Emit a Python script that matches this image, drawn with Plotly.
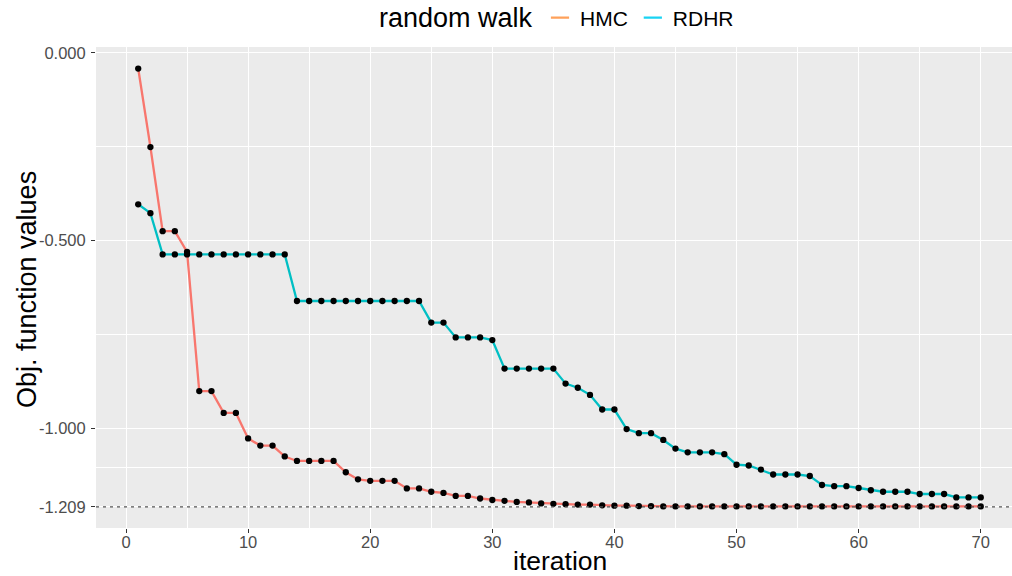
import plotly.graph_objects as go

iterations = list(range(1, 71))

hmc = [-0.042, -0.251, -0.475, -0.475, -0.530, -0.901, -0.901, -0.959, -0.959, -1.027,
       -1.046, -1.046, -1.075, -1.087, -1.087, -1.087, -1.087, -1.117, -1.136, -1.140,
       -1.140, -1.140, -1.160, -1.160, -1.169, -1.172, -1.180, -1.180, -1.187, -1.191,
       -1.193, -1.196, -1.1975, -1.200, -1.201, -1.202, -1.203, -1.203, -1.205, -1.206,
       -1.206, -1.207, -1.207, -1.208, -1.208, -1.208, -1.208, -1.208, -1.208, -1.208,
       -1.208, -1.208, -1.208, -1.208, -1.208, -1.208, -1.208, -1.208, -1.208, -1.208,
       -1.208, -1.208, -1.208, -1.208, -1.208, -1.208, -1.208, -1.208, -1.208, -1.208]

rdhr = [-0.4035, -0.427, -0.537, -0.537, -0.537, -0.537, -0.537, -0.537, -0.537, -0.537,
        -0.537, -0.537, -0.537, -0.661, -0.661, -0.661, -0.661, -0.661, -0.661, -0.661,
        -0.661, -0.661, -0.661, -0.661, -0.7185, -0.7185, -0.758, -0.758, -0.758, -0.765,
        -0.841, -0.841, -0.841, -0.841, -0.841, -0.881, -0.892, -0.911, -0.950, -0.950,
        -1.002, -1.013, -1.013, -1.031, -1.054, -1.064, -1.064, -1.064, -1.069, -1.097,
        -1.099, -1.110, -1.123, -1.123, -1.123, -1.127, -1.151, -1.154, -1.154, -1.159,
        -1.165, -1.169, -1.169, -1.169, -1.175, -1.175, -1.175, -1.184, -1.184, -1.184]

optimum = -1.209
series_names = ["HMC", "RDHR"]
series_colors = ["#F8766D", "#00BFC4"]
legend_title = "random walk"
x_title = "iteration"
y_title = "Obj. function values"
y_tickvals = [0.0, -0.5, -1.0, -1.209]
y_ticktext = ["0.000", "-0.500", "-1.000", "-1.209"]
y_minor = [-0.25, -0.75, -1.1045]

FONT = "Liberation Sans, Arial, Helvetica, sans-serif"
L, R, T, B, W, H = 96, 0, 47, 48, 1012, 576
PW, PH = W - L - R, H - T - B

fig = go.Figure()

for name, vals, col in zip(series_names, [hmc, rdhr], series_colors):
    fig.add_trace(go.Scatter(x=iterations, y=vals, mode="lines",
                             line=dict(color=col, width=2.3),
                             showlegend=False, hoverinfo="skip"))
for vals in [hmc, rdhr]:
    fig.add_trace(go.Scatter(x=iterations, y=vals, mode="markers",
                             marker=dict(color="black", size=6.3),
                             showlegend=False))
# legend entries
for name, col in zip(series_names, series_colors):
    fig.add_trace(go.Scatter(x=[None], y=[None], mode="markers", name=name,
                             marker=dict(symbol="line-ew-open", size=13,
                                         line=dict(color=col, width=2.4))))

fig.add_shape(type="line", xref="x domain", yref="y", x0=0, x1=1,
              y0=optimum, y1=optimum,
              line=dict(color="#555555", width=1.2, dash="3px,4px"), layer="above")

fig.add_annotation(text=legend_title, xref="paper", yref="paper",
                   x=(377 - L) / PW, xanchor="left",
                   y=(H - B - 18) / PH, yanchor="middle", showarrow=False,
                   font=dict(size=27, color="black", family=FONT))
fig.add_annotation(text=x_title, xref="paper", yref="paper",
                   x=(560 - L) / PW, xanchor="center",
                   y=(H - B - 561) / PH, yanchor="middle", showarrow=False,
                   borderpad=0,
                   font=dict(size=26.5, color="black", family=FONT))
fig.add_annotation(text=y_title, xref="paper", yref="paper", textangle=-90,
                   x=(27 - L) / PW, xanchor="center",
                   y=(H - B - 290) / PH, yanchor="middle", showarrow=False,
                   font=dict(size=27, color="black", family=FONT))

fig.update_layout(
    width=W, height=H,
    margin=dict(l=L, r=R, t=T, b=B),
    paper_bgcolor="white", plot_bgcolor="#EBEBEB",
    font=dict(family=FONT, color="black"),
    legend=dict(orientation="h", xref="container", x=540 / W, xanchor="left",
                yref="container", y=1 - 18 / H, yanchor="middle",
                font=dict(size=21, color="black"), bgcolor="rgba(0,0,0,0)"),
    xaxis=dict(range=[-2.457, 72.56], tickmode="linear", tick0=0, dtick=10,
               automargin=False,
               showgrid=True, gridcolor="white", gridwidth=1.1, zeroline=False,
               showline=False, ticks="outside", ticklen=4, tickwidth=1,
               tickcolor="#333333", tickfont=dict(size=16.5, color="#4D4D4D"),
               ticklabelstandoff=-5,
               minor=dict(tick0=0, dtick=5, showgrid=True, gridcolor="white",
                          gridwidth=0.5, ticklen=0)),
    yaxis=dict(range=[-1.2655, 0.0154], tickmode="array", tickvals=y_tickvals,
               automargin=False,
               ticktext=y_ticktext, showgrid=True, gridcolor="white", gridwidth=1.1,
               zeroline=False, showline=False, ticks="outside", ticklen=4, tickwidth=1,
               tickcolor="#333333", tickfont=dict(size=16.5, color="#4D4D4D"),
               ticklabelstandoff=2,
               minor=dict(tickmode="array", tickvals=y_minor, showgrid=True,
                          gridcolor="white", gridwidth=0.5, ticklen=0)),
)

fig.write_html("out.html", config={"displayModeBar": False},
               post_script="document.body.style.margin='0';document.body.style.overflow='hidden';")
